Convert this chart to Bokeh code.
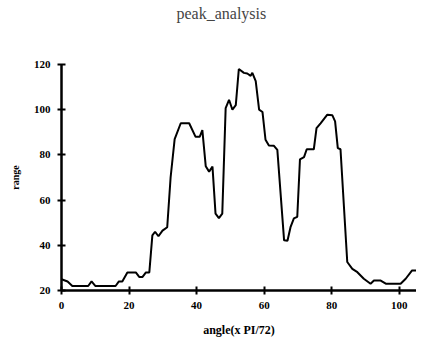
from bokeh.plotting import figure
from bokeh.models import Range1d, FixedTicker, Title
from bokeh.embed import file_html
from bokeh.resources import INLINE

angle = [0, 1.8, 3.2, 7.9, 8.9, 10, 16, 17, 18, 19.5, 22, 23, 24, 25, 26, 26.9, 27.7, 28.7, 29.9, 31.3,
         32.3, 33.5, 35.3, 37.8, 39.7, 40.9, 41.7, 42.7, 43.7, 44.7, 45.6, 46.6, 47.6, 48.6, 49.6, 50.6,
         51.6, 52.5, 54, 55, 56, 56.5, 57.5, 58.5, 59.5, 60.4, 61.4, 62.9, 63.9, 65.9, 66.9, 67.8, 68.8,
         69.8, 70.6, 71.8, 72.6, 74.7, 75.5, 76.7, 78.7, 80.2, 81, 81.8, 82.6, 84.6, 86.1, 87.6, 89.5,
         91.5, 92.5, 94.5, 96, 100.4, 101.9, 103.8, 105.8, 107.5]
rng = [25, 24, 22, 22, 24, 22, 22, 24, 24, 28, 28, 26, 26, 28, 28, 44.4, 46, 44, 46.5, 48,
       70, 87, 94, 94, 88, 88, 91, 75, 72.6, 74.8, 54, 52, 54, 100.7, 104.4, 100,
       102, 118, 116.3, 116, 115, 116.3, 112.6, 100, 99, 86.7, 84.2, 84, 82.2, 42.2, 42, 48, 51.9,
       52.6, 78, 79, 82.5, 82.5, 91.8, 94, 97.8, 97.5, 94.8, 83, 82.5, 32.6, 29.6, 28.1, 25.2,
       23, 24.4, 24.4, 23, 23, 25.2, 28.9, 28.9, 27]
x_ticks = [0, 20, 40, 60, 80, 100]
y_ticks = [20, 40, 60, 80, 100, 120]
title_text = "peak_analysis"

p = figure(width=416, height=339, output_backend="svg", toolbar_location=None,
           x_range=Range1d(0, 105.1), y_range=Range1d(20, 120),
           min_border_left=61, min_border_right=0, min_border_top=0, min_border_bottom=49,
           title=title_text)
p.outline_line_color = None
p.grid.visible = False
p.background_fill_color = "white"
p.border_fill_color = "white"

p.title.align = "left"
p.title.offset = 115
p.title.text_font = "Liberation Serif"
p.title.text_font_style = "normal"
p.title.text_font_size = "16px"
p.title.standoff = 4

# empty spacer between title and plot area
p.add_layout(Title(text=" ", text_font_size="35px", standoff=0), "above")

p.line(angle, rng, line_color="black", line_width=2)

for ax, ticks, lbl in ((p.xaxis[0], x_ticks, "angle(x PI/72)"), (p.yaxis[0], y_ticks, "range")):
    ax.ticker = FixedTicker(ticks=ticks)
    ax.axis_label = lbl
    ax.axis_line_width = 2.5
    ax.axis_line_color = "black"
    ax.major_tick_line_width = 2
    ax.major_tick_line_color = "black"
    ax.major_tick_in = 4
    ax.major_tick_out = 4
    ax.minor_tick_line_color = None
    ax.major_label_text_font = "Liberation Serif"
    ax.major_label_text_font_style = "bold"
    ax.major_label_text_font_size = "11px"
    ax.major_label_text_color = "black"
    ax.axis_label_text_font = "Liberation Serif"
    ax.axis_label_text_font_style = "bold"
    ax.axis_label_text_color = "black"

p.xaxis.axis_label_text_font_size = "12px"
p.yaxis.axis_label_text_font_size = "10px"
p.xaxis.major_label_standoff = 7
p.xaxis.axis_label_standoff = 11
p.yaxis.major_label_standoff = 7
p.yaxis.axis_label_standoff = 10

open("out.html", "w").write(file_html(p, INLINE))
